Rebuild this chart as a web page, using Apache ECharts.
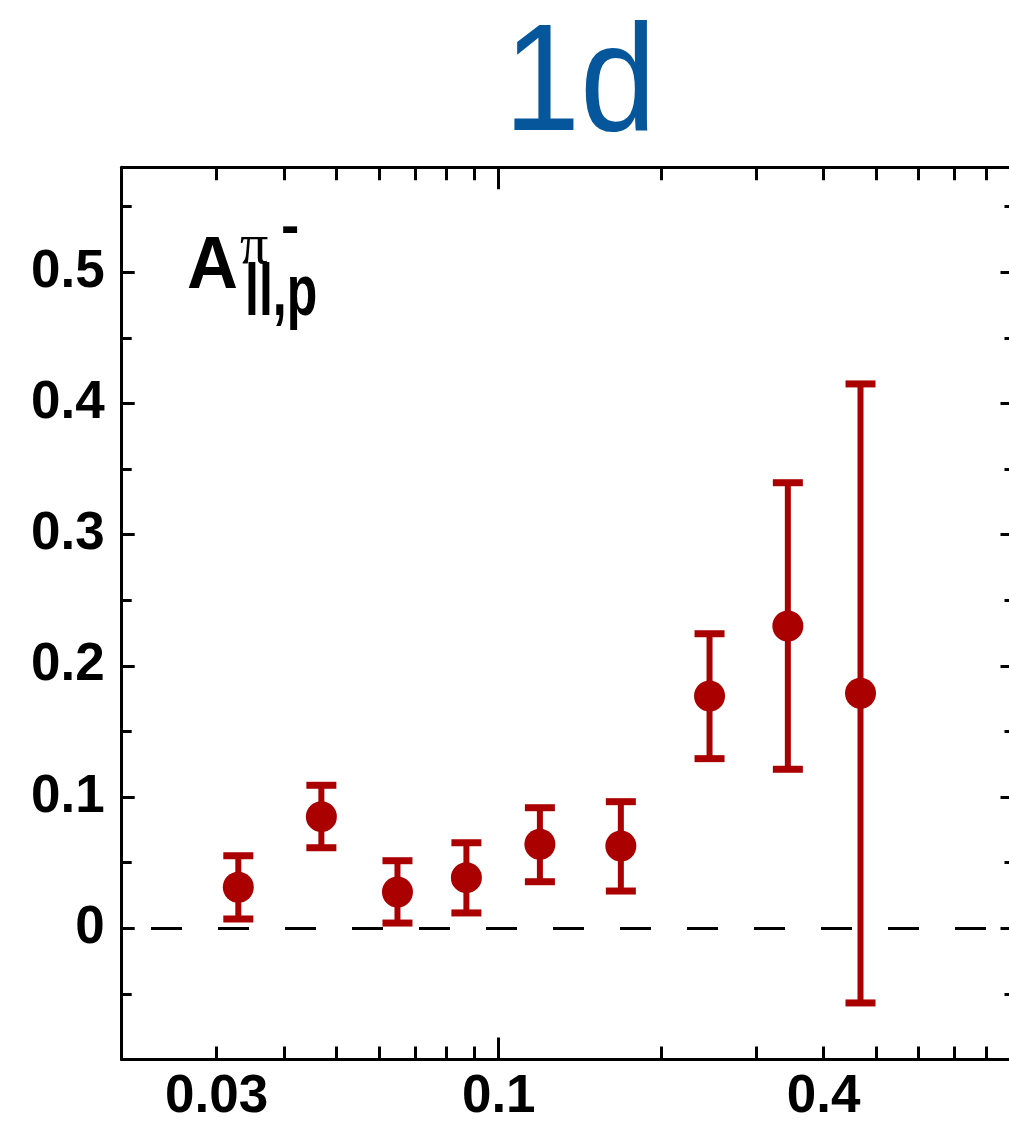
<!DOCTYPE html>
<html>
<head>
<meta charset="utf-8">
<title>1d</title>
<script src="https://cdn.jsdelivr.net/npm/echarts@6/dist/echarts.min.js"></script>
<style>
html, body { margin: 0; padding: 0; background: #fff; }
#main { width: 1009px; height: 1123px; }
</style>
</head>
<body>
<div id="main"></div>
<script>
// data
var xVals = [0.0329, 0.0469, 0.0649, 0.0871, 0.1192, 0.1684, 0.2459, 0.3435, 0.4684];
var yVals = [0.0313, 0.0851, 0.0277, 0.0386, 0.0640, 0.0627, 0.1770, 0.2304, 0.1791];
var yLow  = [0.0071, 0.0614, 0.0040, 0.0117, 0.0355, 0.0284, 0.1293, 0.1212, -0.0569];
var yHigh = [0.0553, 0.1090, 0.0515, 0.0652, 0.0919, 0.0965, 0.2245, 0.3396, 0.4149];

// axis ticks / labels
var xTickVals = [0.03, 0.04, 0.05, 0.06, 0.07, 0.08, 0.09, 0.2, 0.3, 0.4, 0.5, 0.6, 0.7, 0.8, 0.9];
var xMajorTick = [0.1];
var xLabelVals = [0.03, 0.1, 0.4];
var xLabels = ['0.03', '0.1', '0.4'];
var yTickVals = [-0.1, 0, 0.1, 0.2, 0.3, 0.4, 0.5];
var yMinorVals = [-0.05, 0.05, 0.15, 0.25, 0.35, 0.45, 0.55];
var yLabelVals = [0, 0.1, 0.2, 0.3, 0.4, 0.5];
var yLabels = ['0', '0.1', '0.2', '0.3', '0.4', '0.5'];

var xMin = 0.02, xMax = 0.9;
var yMin = -0.1, yMax = 0.58;

var red = '#ab0000';
var lg = function (v) { return Math.log10(v); };

var points = [], bars = [];
for (var i = 0; i < xVals.length; i++) {
    points.push([lg(xVals[i]), yVals[i]]);
    bars.push([lg(xVals[i]), yLow[i], yHigh[i]]);
}

function xLabelFmt(v) {
    for (var k = 0; k < xLabelVals.length; k++) {
        if (Math.abs(lg(xLabelVals[k]) - v) < 1e-6) return xLabels[k];
    }
    return '';
}
function yLabelFmt(v) {
    for (var k = 0; k < yLabelVals.length; k++) {
        if (Math.abs(yLabelVals[k] - v) < 1e-6) return yLabels[k];
    }
    return '';
}

var lineBlack = { color: '#000', width: 3 };
var labelFont = { fontFamily: 'Liberation Sans, Arial, sans-serif', fontWeight: 'bold', fontSize: 53, color: '#000' };

function xAxisDef(pos, ticks, len, showLine, showLabel) {
    return {
        type: 'value', position: pos, min: lg(xMin), max: lg(xMax),
        axisLine: { show: showLine, onZero: false, lineStyle: lineBlack },
        axisTick: { show: true, inside: true, length: len, lineStyle: lineBlack, customValues: ticks.map(lg) },
        axisLabel: Object.assign({ show: showLabel, margin: 11, customValues: xLabelVals.map(lg), formatter: xLabelFmt }, labelFont),
        splitLine: { show: false }
    };
}
function yAxisDef(pos, ticks, len, showLine, showLabel) {
    return {
        type: 'value', position: pos, min: yMin, max: yMax,
        axisLine: { show: showLine, onZero: false, lineStyle: lineBlack },
        axisTick: { show: true, inside: true, length: len, lineStyle: lineBlack, customValues: ticks },
        axisLabel: Object.assign({ show: showLabel, margin: 17, customValues: yLabelVals, formatter: yLabelFmt }, labelFont),
        splitLine: { show: false }
    };
}

var myChart = echarts.init(document.getElementById('main'), null, { renderer: 'canvas' });
myChart.setOption({
    backgroundColor: '#fff',
    animation: false,
    grid: { left: 121.7, right: -4.5, top: 167.3, bottom: 63.5, containLabel: false, outerBoundsMode: 'none' },
    xAxis: [
        xAxisDef('bottom', xTickVals, 13, true, true),
        xAxisDef('bottom', xMajorTick, 22, false, false),
        xAxisDef('top', xTickVals, 13, true, false),
        xAxisDef('top', xMajorTick, 22, false, false)
    ],
    yAxis: [
        yAxisDef('left', yTickVals, 13, true, true),
        yAxisDef('left', yMinorVals, 10, false, false),
        yAxisDef('right', yTickVals, 13, true, false),
        yAxisDef('right', yMinorVals, 9, false, false)
    ],
    graphic: [
        // title
        { type: 'text', x: 580, y: 88, scaleX: 0.9, style: { text: '1d', fill: '#05569a', align: 'center', verticalAlign: 'middle',
            font: 'normal 152px "Comic Sans MS", "Liberation Sans", Arial, sans-serif' } },
        // A_{ll,p}^{pi -}
        { type: 'text', x: 187, y: 267, style: { text: 'A', fill: '#000', align: 'left', verticalAlign: 'middle',
            font: 'bold 75px "Liberation Sans", Arial, sans-serif' }, scaleX: 0.94 },
        { type: 'text', x: 245, y: 295, scaleX: 0.685, style: { text: 'll,p', fill: '#000', align: 'left', verticalAlign: 'middle',
            font: 'bold 73px "Liberation Sans", Arial, sans-serif' } },
        { type: 'text', x: 240, y: 248, style: { text: 'π', fill: '#000', align: 'left', verticalAlign: 'middle',
            font: 'normal 56px "Liberation Serif", "DejaVu Serif", serif' } },
        { type: 'text', x: 281, y: 229, style: { text: '-', fill: '#000', align: 'left', verticalAlign: 'middle',
            font: 'bold 55px "Liberation Sans", Arial, sans-serif' } }
    ],
    series: [
        {
            type: 'custom',
            xAxisIndex: 0, yAxisIndex: 0,
            data: bars,
            encode: { x: 0, y: [1, 2] },
            renderItem: function (params, api) {
                var x = api.value(0);
                var lo = api.coord([x, api.value(1)]);
                var hi = api.coord([x, api.value(2)]);
                var half = 15;
                return {
                    type: 'group',
                    children: [
                        { type: 'line', shape: { x1: lo[0], y1: lo[1], x2: hi[0], y2: hi[1] }, style: { stroke: red, lineWidth: 6 } },
                        { type: 'line', shape: { x1: lo[0] - half, y1: lo[1], x2: lo[0] + half, y2: lo[1] }, style: { stroke: red, lineWidth: 7 } },
                        { type: 'line', shape: { x1: hi[0] - half, y1: hi[1], x2: hi[0] + half, y2: hi[1] }, style: { stroke: red, lineWidth: 7 } }
                    ]
                };
            },
            z: 2
        },
        {
            type: 'scatter',
            xAxisIndex: 0, yAxisIndex: 0,
            data: points,
            symbol: 'circle',
            symbolSize: 31,
            itemStyle: { color: red, opacity: 1 },
            z: 3,
            markLine: {
                silent: true,
                symbol: 'none',
                label: { show: false },
                lineStyle: { color: '#000', width: 3, type: [31, 36], dashOffset: 37.7 },
                data: [{ yAxis: 0 }]
            }
        }
    ]
});
</script>
</body>
</html>
